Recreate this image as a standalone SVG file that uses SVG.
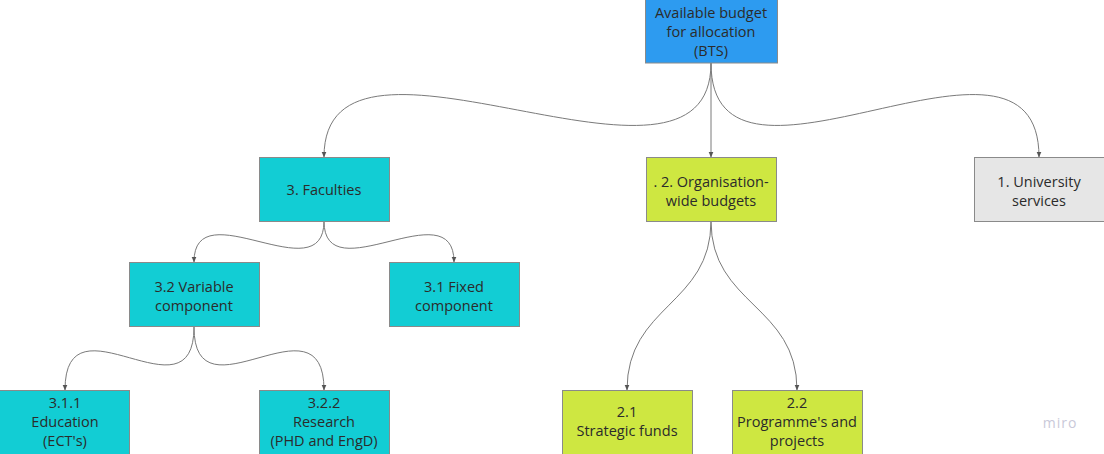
<svg xmlns="http://www.w3.org/2000/svg" width="1104" height="454" viewBox="0 0 1104 454">
<style>
.n{stroke:#8a8a8a;stroke-width:1}
.t{font-family:"Open Sans","Liberation Sans",sans-serif;font-size:14.5px;fill:#2b2b2b;text-anchor:middle}
.c{fill:none;stroke:#7a7a7a;stroke-width:1}
.blue{fill:#2d9bf0}.cyan{fill:#12cdd4}.lime{fill:#cee741}.grey{fill:#e6e6e6}
</style>
<defs>
<marker id="a" viewBox="0 0 6 6" refX="5.5" refY="3" markerWidth="6" markerHeight="6" orient="auto" markerUnits="userSpaceOnUse">
<path d="M0,0.5 L6,3 L0,5.5 Z" fill="#555"/>
</marker>
</defs>
<rect width="1104" height="454" fill="#ffffff"/>
<g id="connectors">
<path class="c" marker-end="url(#a)" d="M711,63 C711,230 324,-10 324,157"/>
<path class="c" marker-end="url(#a)" d="M711,63 L711,157"/>
<path class="c" marker-end="url(#a)" d="M711,63 C711,230 1039,-10 1039,157"/>
<path class="c" marker-end="url(#a)" d="M324,221 C324,294 194,189 194,262"/>
<path class="c" marker-end="url(#a)" d="M324,221 C324,294 454,189 454,262"/>
<path class="c" marker-end="url(#a)" d="M194,327 C194,425 65,290 65,390"/>
<path class="c" marker-end="url(#a)" d="M194,327 C194,425 324,290 324,390"/>
<path class="c" marker-end="url(#a)" d="M711,221 C711,305 627,305 627,390"/>
<path class="c" marker-end="url(#a)" d="M711,221 C711,305 797,305 797,390"/>
</g>
<g id="bts">
<rect class="n blue" x="645.5" y="-1" width="132" height="64"/>
<text class="t" x="711" y="18">Available budget</text>
<text class="t" x="711" y="37">for allocation</text>
<text class="t" x="711" y="56">(BTS)</text>
</g>
<g id="faculties">
<rect class="n cyan" x="259.5" y="157.5" width="130" height="64"/>
<text class="t" x="324" y="195">3. Faculties</text>
</g>
<g id="orgwide">
<rect class="n lime" x="646.5" y="157.5" width="130" height="64"/>
<text class="t" x="711" y="187">. 2. Organisation-</text>
<text class="t" x="711" y="206">wide budgets</text>
</g>
<g id="univ">
<rect class="n grey" x="974.5" y="157.5" width="130" height="64"/>
<text class="t" x="1039" y="187">1. University</text>
<text class="t" x="1039" y="206">services</text>
</g>
<g id="variable">
<rect class="n cyan" x="129.5" y="262.5" width="130" height="64"/>
<text class="t" x="194" y="292">3.2 Variable</text>
<text class="t" x="194" y="311">component</text>
</g>
<g id="fixed">
<rect class="n cyan" x="389.5" y="262.5" width="130" height="64"/>
<text class="t" x="454" y="292">3.1 Fixed</text>
<text class="t" x="454" y="311">component</text>
</g>
<g id="education">
<rect class="n cyan" x="-0.5" y="390.5" width="130" height="64"/>
<text class="t" x="65" y="408">3.1.1</text>
<text class="t" x="65" y="427">Education</text>
<text class="t" x="65" y="446">(ECT's)</text>
</g>
<g id="research">
<rect class="n cyan" x="259.5" y="390.5" width="130" height="64"/>
<text class="t" x="324" y="408">3.2.2</text>
<text class="t" x="324" y="427">Research</text>
<text class="t" x="324" y="446">(PHD and EngD)</text>
</g>
<g id="strategic">
<rect class="n lime" x="562.5" y="390.5" width="130" height="64"/>
<text class="t" x="627" y="417">2.1</text>
<text class="t" x="627" y="436">Strategic funds</text>
</g>
<g id="programme">
<rect class="n lime" x="732.5" y="390.5" width="130" height="64"/>
<text class="t" x="797" y="408">2.2</text>
<text class="t" x="797" y="427">Programme's and</text>
<text class="t" x="797" y="446">projects</text>
</g>
<text x="1060" y="428" style="font-family:'Open Sans','Liberation Sans',sans-serif;font-size:14px;fill:#c9c9d9;text-anchor:middle;letter-spacing:1px">miro</text>
</svg>
